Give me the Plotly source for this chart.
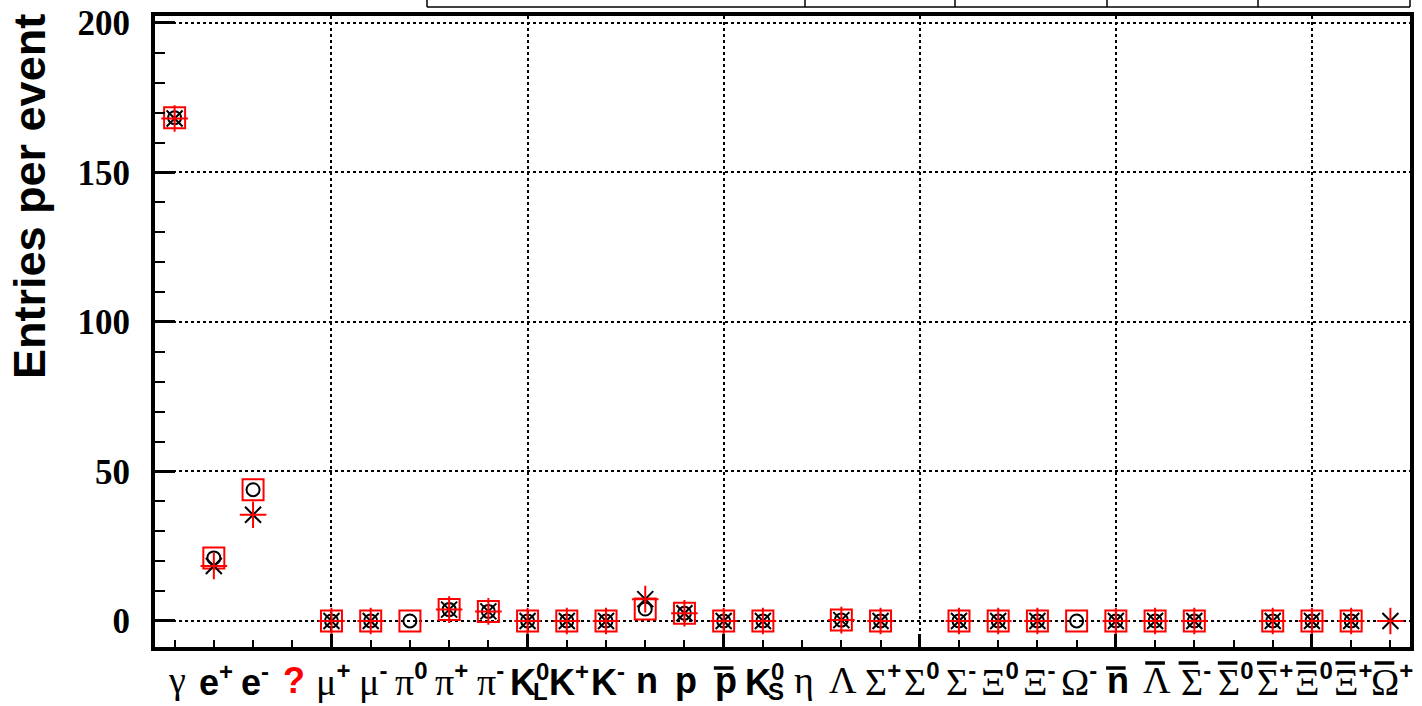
import plotly.graph_objects as go

# ---------------- data ----------------
categories = ["gamma", "e+", "e-", "?", "mu+", "mu-", "pi0", "pi+", "pi-", "K0L", "K+", "K-",
              "n", "p", "pbar", "K0S", "eta", "Lambda", "Sigma+", "Sigma0", "Sigma-", "Xi0", "Xi-",
              "Omega-", "nbar", "Lambdabar", "Sigmabar-", "Sigmabar0", "Sigmabar+", "Xibar0",
              "Xibar+", "Omegabar+"]
label_main = ["γ", "e", "e", "?", "μ", "μ", "π", "π", "π", "K", "K", "K", "n", "p", "p", "K", "η",
              "Λ", "Σ", "Σ", "Σ", "Ξ", "Ξ", "Ω", "n", "Λ", "Σ", "Σ", "Σ", "Ξ", "Ξ", "Ω"]
label_sup = ["", "+", "-", "", "+", "-", "0", "+", "-", "0", "+", "-", "", "", "", "0", "",
             "", "+", "0", "-", "0", "-", "-", "", "", "-", "0", "+", "0", "+", "+"]
label_sub = ["", "", "", "", "", "", "", "", "", "L", "", "", "", "", "", "S", "",
             "", "", "", "", "", "", "", "", "", "", "", "", "", "", ""]
label_bar = [False] * 14 + [True] + [False] * 9 + [True] * 8
label_greek = [True, False, False, False, True, True, True, True, True, False, False, False,
               False, False, False, False, True, True, True, True, True, True, True, True,
               False, True, True, True, True, True, True, True]

circle_vals = [168.3, 21.1, 43.9, None, 0, 0, 0, 3.8, 3.2, 0, 0, 0, 4.0, 2.6, 0, 0, None,
               0.3, 0, None, 0, 0, 0, 0, 0, 0, 0, None, 0, 0, 0, None]
star_vals = [168.0, 18.4, 35.5, None, 0, 0, None, 3.8, 3.2, 0, 0, 0, 7.3, 2.6, 0, 0, None,
             0.3, 0, None, 0, 0, 0, None, 0, 0, 0, None, 0, 0, 0, 0]
square_vals = [168.3, 21.1, 43.9, None, 0, 0, 0, 3.8, 3.2, 0, 0, 0, 4.0, 2.6, 0, 0, None,
               0.3, 0, None, 0, 0, 0, 0, 0, 0, 0, None, 0, 0, 0, None]

y_ticks = [0, 50, 100, 150, 200]
x_grid = [4, 9, 14, 19, 24, 29]

# ---------------- layout helpers (page pixel coords) ----------------
W, H = 1422, 706
PL, PR, PT, PB = 155, 1410, 16, 647          # plot box in pixels
L, R, T, B = PL, W - PR, PT, H - PB
PW, PH = PR - PL, PB - PT


def px_x(X):
    return (X - PL) / PW


def px_y(Y):
    return (PB - Y) / PH


xs = list(range(len(categories)))
fig = go.Figure()

fig.add_trace(go.Scatter(x=xs, y=circle_vals, mode="markers", name="circle",
                         marker=dict(symbol="circle-open", size=13, color="black",
                                     line=dict(width=2, color="black"))))
fig.add_trace(go.Scatter(x=xs, y=square_vals, mode="markers", name="square",
                         marker=dict(symbol="square-open", size=21, color="red",
                                     line=dict(width=2, color="red"))))
fig.add_trace(go.Scatter(x=xs, y=star_vals, mode="markers", name="star",
                         marker=dict(symbol="x-thin-open", size=16, color="black",
                                     line=dict(width=2, color="black"))))
fig.add_trace(go.Scatter(x=xs, y=star_vals, mode="markers", name="star-err",
                         marker=dict(symbol="cross-thin-open", size=19, color="red",
                                     line=dict(width=2, color="red"))))

annotations = []
shapes = []
GREEK_FONT = "Liberation Serif"
LATIN_FONT = "Liberation Sans"
sup_style = "font-family:Liberation Sans;font-weight:bold;font-size:24px"
for i in xs:
    main = label_main[i]
    greek = label_greek[i]
    color = "red" if main == "?" else "black"
    size = 38 if greek else 36
    txt = main if greek else "<b>%s</b>" % main
    if label_sup[i]:
        txt += "<sup><span style='%s'>%s</span></sup>" % (sup_style, label_sup[i])
    annotations.append(dict(x=i, y=px_y(680), xref="x", yref="paper", text=txt,
                            showarrow=False, xanchor="center", yanchor="middle", xshift=2,
                            font=dict(family=GREEK_FONT if greek else LATIN_FONT,
                                      size=size, color=color)))
    if label_sub[i]:
        annotations.append(dict(x=i, y=px_y(691), xref="x", yref="paper",
                                text="<b>%s</b>" % label_sub[i], xshift=13,
                                showarrow=False, xanchor="center", yanchor="middle",
                                font=dict(family=LATIN_FONT, size=24, color="black")))
    if label_bar[i]:
        off = -0.15 if label_sup[i] else 0.0
        ybar = 668 if main in ("n", "p") else 663
        shapes.append(dict(type="line", xref="x", yref="paper",
                           x0=i + off - 0.25, x1=i + off + 0.25,
                           y0=px_y(ybar), y1=px_y(ybar),
                           line=dict(color="black", width=3.5)))

# y-axis title
annotations.append(dict(x=px_x(30), y=px_y(197), xref="paper", yref="paper",
                        text="<b>Entries per event</b>", textangle=-90, showarrow=False,
                        xanchor="center", yanchor="middle",
                        font=dict(family=LATIN_FONT, size=45, color="black")))

# partially visible table at the top
for Xv in [427, 805, 955, 1107, 1258, 1410]:
    shapes.append(dict(type="line", xref="paper", yref="paper",
                       x0=px_x(Xv), x1=px_x(Xv), y0=px_y(0), y1=px_y(7),
                       line=dict(color="black", width=1.5)))
shapes.append(dict(type="line", xref="paper", yref="paper",
                   x0=px_x(427), x1=px_x(1410), y0=px_y(7), y1=px_y(7),
                   line=dict(color="black", width=1.5)))

fig.update_layout(
    width=W, height=H, margin=dict(l=L, r=R, t=T, b=B, autoexpand=False),
    paper_bgcolor="white", plot_bgcolor="white", showlegend=False,
    annotations=annotations, shapes=shapes,
    xaxis=dict(range=[-0.5, 31.5], tickvals=x_grid, showticklabels=False, automargin=False,
               ticks="inside", ticklen=13, tickwidth=2.5, tickcolor="black",
               showgrid=True, gridcolor="black", griddash="dot", gridwidth=1.5,
               zeroline=False, showline=True, linecolor="black", linewidth=4, mirror=True,
               minor=dict(tickvals=xs, ticks="inside", ticklen=7, tickwidth=2,
                          tickcolor="black", showgrid=False)),
    yaxis=dict(range=[-8.7, 202.3], tickvals=y_ticks, ticktext=[str(v) for v in y_ticks],
               automargin=False,
               ticks="inside", ticklen=20, tickwidth=3, tickcolor="black",
               ticklabelstandoff=14,
               tickfont=dict(family=GREEK_FONT, size=35, color="black", weight="bold"),
               showgrid=True, gridcolor="black", griddash="dot", gridwidth=1.5,
               zeroline=False, showline=True, linecolor="black", linewidth=4, mirror=True,
               minor=dict(dtick=10, tick0=0, ticks="inside", ticklen=10, tickwidth=2,
                          tickcolor="black", showgrid=False)),
)

fig.write_html("out.html", config={"displayModeBar": False},
               post_script="document.body.style.margin='0';document.body.style.overflow='hidden';")
